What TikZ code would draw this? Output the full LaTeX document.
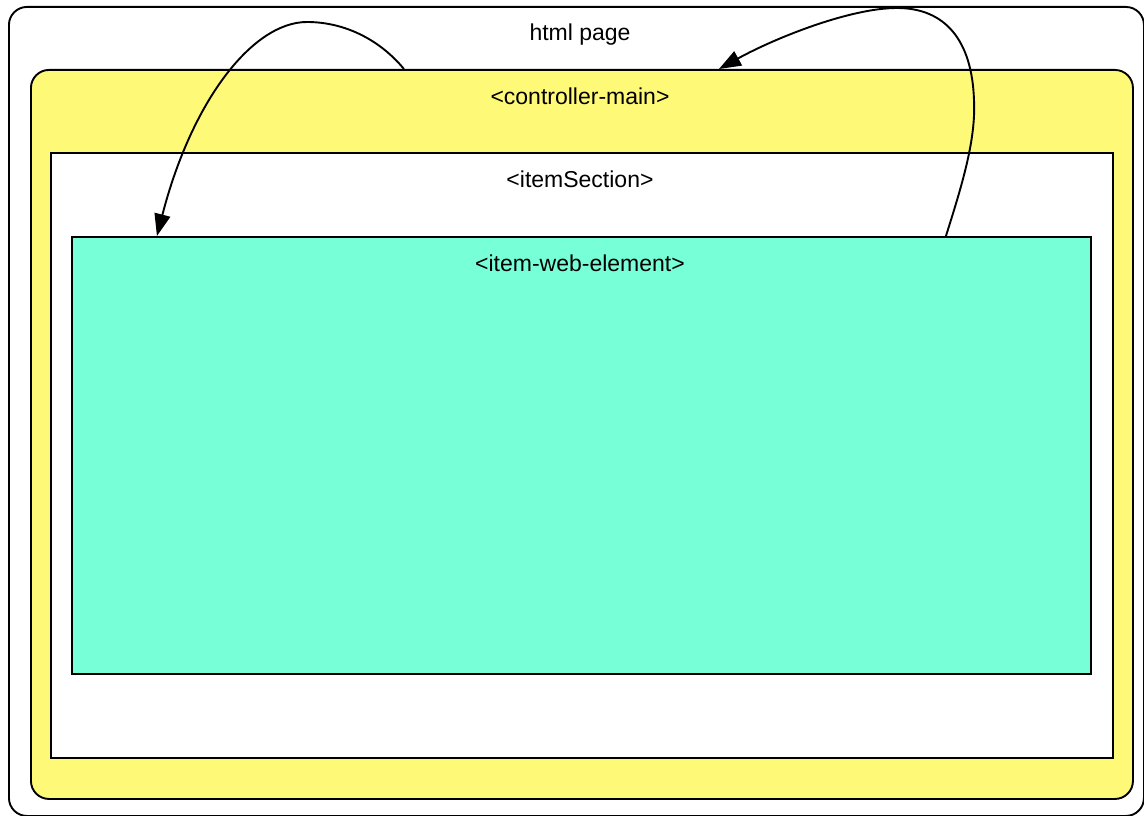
\documentclass[tikz,border=0pt]{standalone}
\usepackage{fontspec}
\setmainfont{Liberation Sans}
\usetikzlibrary{arrows.meta}

\definecolor{ctrlyellow}{RGB}{255,249,120}
\definecolor{webteal}{RGB}{119,255,216}

\tikzset{
  frame/.style={draw=black, line width=1.9pt, rectangle, anchor=north west, inner sep=0pt},
  pagebox/.style={frame, fill=white, rounded corners=18pt},
  ctrlbox/.style={frame, fill=ctrlyellow, rounded corners=18pt},
  sectionbox/.style={frame, fill=white},
  webbox/.style={frame, fill=webteal},
  lbl/.style={anchor=base, inner sep=0pt, font=\fontsize{23}{28}\selectfont},
  edge/.style={draw=black, line width=1.9pt, -{Triangle[length=22pt, width=16pt]}}
}

\begin{document}
\begin{tikzpicture}[x=1pt, y=-1pt]
  \useasboundingbox (0,0) rectangle (1144,816);

  % nested containers
  \node[pagebox, minimum width=1135pt, minimum height=809pt] (page) at (8,6) {};
  \node[ctrlbox, minimum width=1102pt, minimum height=729pt] (ctrl) at (30,69) {};
  \node[sectionbox, minimum width=1062pt, minimum height=605pt] (section) at (50,152) {};
  \node[webbox, minimum width=1019pt, minimum height=437pt] (web) at (71,236) {};

  % container titles
  \node[lbl] (tpage) at (580,41) {html page};
  \node[lbl] (tctrl) at (580,104) {<controller-main>};
  \node[lbl] (tsection) at (580,187) {<itemSection>};
  \node[lbl] (tweb) at (580,271) {<item-web-element>};

  % controller-main -> item-web-element
  \draw[edge] ([xshift=-178pt]ctrl.north)
    .. controls (380,40) and (345,22) .. (307,22)
    .. controls (253,22) and (192,100) .. ([xshift=-424.5pt]web.north);

  % item-web-element -> controller-main
  \draw[edge] ([xshift=364.5pt]web.north)
    .. controls (962,185) and (976,140) .. (974,100)
    .. controls (972,40) and (945,8) .. (897,8)
    .. controls (850,8) and (775,38) .. ([xshift=137pt]ctrl.north);
\end{tikzpicture}
\end{document}
